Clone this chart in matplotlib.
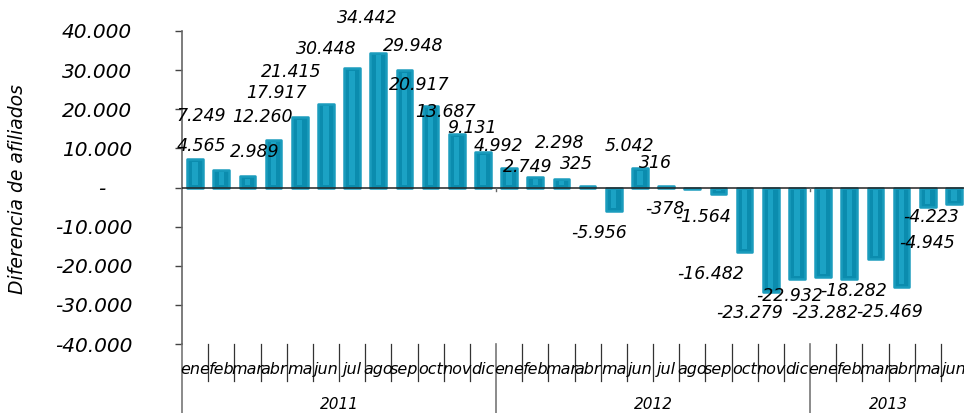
import numpy as np
import matplotlib.pyplot as plt
from matplotlib.transforms import blended_transform_factory

# --- data ---
months = ["ene", "feb", "mar", "abr", "ma", "jun", "jul", "ago", "sep", "oct", "nov", "dic",
          "ene", "feb", "mar", "abr", "ma", "jun", "jul", "ago", "sep", "oct", "nov", "dic",
          "ene", "feb", "mar", "abr", "ma", "jun"]
years = ["2011", "2012", "2013"]
year_sizes = [12, 12, 6]

vals_2011 = [7249, 4565, 2989, 12260, 17917, 21415, 30448, 34442, 29948, 20917, 13687, 9131]
vals_2012 = [4992, 2749, 2298, 325, -5956, 5042, 316, -378, -1564, -16482, -26600, -23279]
vals_2013 = [-22932, -23282, -18282, -25469, -4945, -4223]
# nov 2012 has no visible label in the original
show_label = [True] * 22 + [False] + [True] * 7

# label offsets from bar end, in pixels (dx, dy)
lab_dx = [6, -20, 7, -11, -23, -35, -26, -11, 9, -11, -11, -11,
          -11, -8, -2, -11, -15, -11, -11, -27, -15, -34, 0, -47,
          -33, -25, -22, -12, -1, -23]
lab_dy = [43, 24, 24, 23, 24, 32, 19, 35, 24, 21, 22, 24,
          22, 10, 36, 22, -22, 22, 23, -20, -23, -22, 0, -34,
          -19, -34, -32, -25, -36, -13]

values = np.array(vals_2011 + vals_2012 + vals_2013, dtype=float)
x = np.arange(len(values))


def fmt(v):
    if v == 0:
        return "-    "
    return f"{int(round(v)):,}".replace(",", ".")


fig = plt.figure(figsize=(9.64, 4.13), dpi=100)
ax = fig.add_axes([182 / 964, 69 / 413, 785 / 964, 313 / 413])

# bars: body + lighter inner stripe
ax.bar(x, values, width=0.6, color="#0b8cae", edgecolor="#1a9cbd",
       linewidth=1.8, joinstyle="round", zorder=2)
margin = 700
inner = np.sign(values) * np.clip(np.abs(values) - 2 * margin, 0, None)
ax.bar(x, inner, bottom=np.sign(values) * margin, width=0.2,
       color="#1ba2c4", linewidth=0, zorder=3)

ax.axhline(0, color="#222222", lw=1.1, zorder=4)

ax.set_xlim(-0.5, len(values) - 0.5)
ax.set_ylim(-40000, 40000)
ax.set_yticks(np.arange(-40000, 40001, 10000))
ax.set_yticklabels([fmt(v) for v in np.arange(-40000, 40001, 10000)],
                   fontsize=14.5, style="italic")
ax.tick_params(axis="y", length=5, width=1, color="#444444", pad=31)
ax.set_xticks([])

for s in ["top", "right", "bottom"]:
    ax.spines[s].set_visible(False)
ax.spines["left"].set_color("#666666")
ax.spines["left"].set_linewidth(1.2)

# small ticks on the zero line at year boundaries
bounds = np.cumsum(year_sizes)[:-1] - 0.5
for b in bounds:
    ax.plot([b, b], [0, -900], color="#666666", lw=1, zorder=4, clip_on=False)

# data labels
for xi, v, dx, dy, show in zip(x, values, lab_dx, lab_dy, show_label):
    if not show:
        continue
    ax.annotate(fmt(v), xy=(xi, v), xytext=(dx, dy), textcoords="offset pixels",
                ha="center", va="center", fontsize=12.5, style="italic",
                annotation_clip=False, zorder=5)

# multilevel category axis below
tr = blended_transform_factory(ax.transData, ax.transAxes)
for k in range(len(values) + 1):
    xb = k - 0.5
    if k == 0 or xb in bounds:
        ax.plot([xb, xb], [0, -0.23], transform=tr, color="#777777", lw=1.2, clip_on=False)
    else:
        ax.plot([xb, xb], [0, -0.118], transform=tr, color="#333333", lw=0.9, clip_on=False)

for xi, m in zip(x, months):
    ax.text(xi, -0.08, m, transform=tr, ha="center", va="center",
            fontsize=11.5, style="italic")

starts = np.concatenate([[0], np.cumsum(year_sizes)[:-1]])
for st, n, yr in zip(starts, year_sizes, years):
    ax.text(st + n / 2 - 0.5, -0.192, yr, transform=tr, ha="center", va="center",
            fontsize=11, style="italic")

fig.text(18 / 964, 1 - 189 / 413, "Diferencia de afiliados", rotation=90,
         ha="center", va="center", fontsize=13.5, style="italic")

fig.savefig("out.png", dpi=100)
